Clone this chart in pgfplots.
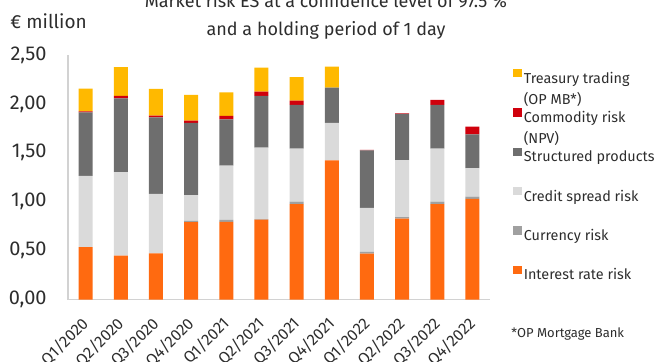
\documentclass[border=0pt]{standalone}
\usepackage{fontspec}
\setmainfont{Fira Sans}
\usepackage{pgfplots}
\usepackage{pgfplotstable}
\pgfplotsset{compat=1.18}

\definecolor{irorange}{RGB}{255,106,16}
\definecolor{fxgray}{RGB}{160,160,160}
\definecolor{csgray}{RGB}{218,218,218}
\definecolor{spgray}{RGB}{110,110,110}
\definecolor{comred}{RGB}{208,0,12}
\definecolor{ttyellow}{RGB}{255,185,0}
\definecolor{axisgray}{RGB}{210,210,210}
\definecolor{textgray}{RGB}{45,45,45}

% ES components, EUR million, one row per quarter
\pgfplotstableread{
q  ir     fx     cs     sp     com    tt
0  0.535  0.000  0.730  0.649  0.010  0.233
1  0.449  0.000  0.854  0.754  0.025  0.293
2  0.473  0.000  0.608  0.782  0.017  0.274
3  0.791  0.013  0.264  0.737  0.024  0.263
4  0.794  0.021  0.553  0.474  0.035  0.242
5  0.818  0.005  0.729  0.529  0.045  0.246
6  0.975  0.027  0.540  0.448  0.044  0.239
7  1.422  0.000  0.383  0.362  0.000  0.215
8  0.469  0.018  0.451  0.587  0.005  0.000
9  0.828  0.014  0.584  0.471  0.007  0.000
10 0.975  0.025  0.542  0.448  0.051  0.000
11 1.030  0.023  0.291  0.345  0.078  0.000
}\esdata

\begin{document}
\begin{tikzpicture}[every node/.style={text=textgray}]
\clip (0,0) rectangle (328.5pt,180.5pt);
\begin{axis}[
  at={(34pt,30.75pt)}, anchor=south west,
  scale only axis, width=211pt, height=122.25pt,
  ybar stacked, bar width=7pt,
  xmin=-0.5, xmax=11.5, ymin=0, ymax=2.5,
  enlargelimits=false,
  axis x line*=bottom, axis y line*=left,
  axis line style={draw=axisgray, line width=0.6pt, -},
  major tick length=0pt,
  xtick={0,...,11},
  xticklabels={Q1/2020,Q2/2020,Q3/2020,Q4/2020,Q1/2021,Q2/2021,Q3/2021,Q4/2021,Q1/2022,Q2/2022,Q3/2022,Q4/2022},
  xticklabel style={rotate=45, anchor=east, inner sep=0pt, font=\fontsize{8}{9}\selectfont},
  xticklabel shift=10.5pt,
  ytick={0,0.5,...,2.5},
  yticklabel style={anchor=east, inner sep=0pt, font=\fontsize{10}{12}\selectfont,
    /pgf/number format/.cd, fixed, fixed zerofill, precision=2, use comma, assume math mode=true},
  yticklabel shift=10.5pt,
  legend image code/.code={\fill[#1] (0pt,0pt) rectangle (4.2pt,4.2pt);},
  reverse legend,
  legend cell align=left,
  legend style={draw=none, fill=none, inner sep=0pt,
    font=\fontsize{7.2}{10.5}\selectfont, row sep=8.8pt,
    nodes={inner sep=1pt, text=textgray},
    at={(1,1)}, anchor=north west, xshift=11.5pt, yshift=-5.6pt},
]
\addplot[fill=irorange, draw=none] table[x=q, y=ir] {\esdata};
\addlegendentry{\strut Interest rate risk}
\addplot[fill=fxgray, draw=none] table[x=q, y=fx] {\esdata};
\addlegendentry{\strut Currency risk}
\addplot[fill=csgray, draw=none] table[x=q, y=cs] {\esdata};
\addlegendentry{\strut Credit spread risk}
\addplot[fill=spgray, draw=none] table[x=q, y=sp] {\esdata};
\addlegendentry{\strut Structured products}
\addplot[fill=comred, draw=none] table[x=q, y=com] {\esdata};
\addlegendentry{\strut\smash{\vtop{\hbox{\strut Commodity risk}\hbox{\strut (NPV)}}}}
\addplot[fill=ttyellow, draw=none] table[x=q, y=tt] {\esdata};
\addlegendentry{\strut\smash{\vtop{\hbox{\strut Treasury trading}\hbox{\strut (OP MB*)}}}}
\end{axis}
\node[anchor=base] at (163pt,177pt) {\fontsize{9}{11}\selectfont Market risk ES at a confidence level of 97.5 \%};
\node[anchor=base] at (163pt,163pt) {\fontsize{9}{11}\selectfont and a holding period of 1 day};
\node[anchor=base west, inner sep=0pt] at (5pt,166.5pt) {\fontsize{9.5}{11}\selectfont € million};
\node[anchor=base west, inner sep=0pt] at (255.5pt,12pt) {\fontsize{6.5}{8}\selectfont *OP Mortgage Bank};
\end{tikzpicture}
\end{document}
